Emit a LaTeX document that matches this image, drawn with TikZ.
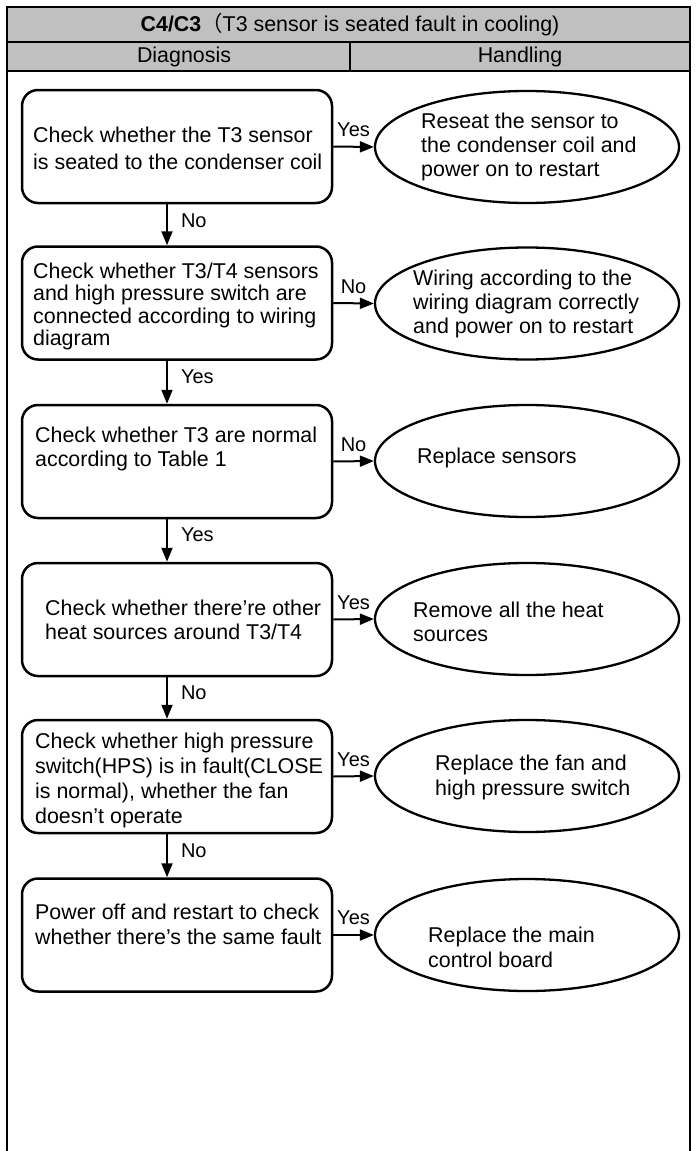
\documentclass[tikz,border=0pt]{standalone}
\usepackage{fontspec}
\setmainfont{Liberation Sans}
\newfontfamily\cjk{Noto Sans CJK SC}
\usepackage{tikz}
\usetikzlibrary{arrows.meta,shapes.geometric,shapes.misc}
\definecolor{headgray}{RGB}{192,192,192}
\tikzset{
  chkbox/.style={draw, line width=2.5pt, rounded corners=16pt, minimum width=310pt, minimum height=113pt, inner sep=0pt},
  fixbox/.style={draw, ellipse, line width=2.3pt, minimum width=304pt, minimum height=112pt, inner sep=0pt},
  txt/.style={align=left, anchor=west, inner sep=0pt, font=\fontsize{21.4}{24}\selectfont},
  hdr/.style={inner sep=0pt, font=\fontsize{21.4}{24}\selectfont},
  yn/.style={inner sep=0pt, font=\fontsize{20}{22}\selectfont},
  arr/.style={line width=2pt, -{Triangle[length=14pt,width=11pt]}}
}

\begin{document}
\begin{tikzpicture}[x=1pt,y=-1pt]
\useasboundingbox (0,0) rectangle (696,1151);
% table head
\filldraw[fill=headgray, line width=2pt] (7,7) rectangle (690,71);
\draw[line width=2pt] (7,42) -- (690,42) (350,42) -- (350,71);
\draw[line width=2pt] (7,71) -- (7,1151) (690,71) -- (690,1151);
\node[hdr] (title) at (350,25) {\textbf{C4/C3}{\cjk （}T3 sensor is seated fault in cooling)};
\node[hdr] (diag) at (184,57) {Diagnosis};
\node[hdr] (handl) at (520,57) {Handling};

% diagnosis boxes
\node[chkbox] (chk1) at (177,146.5) {};
\node[chkbox] (chk2) at (177,303) {};
\node[chkbox] (chk3) at (177,461.5) {};
\node[chkbox] (chk4) at (177,619.5) {};
\node[chkbox] (chk5) at (177,776.5) {};
\node[chkbox] (chk6) at (177,935) {};
\node[txt, font=\fontsize{21.4}{26.5}\selectfont] (chk1txt) at (33,148.5) {Check whether the T3 sensor\\is seated to the condenser coil};
\node[txt, font=\fontsize{21.4}{22.5}\selectfont] (chk2txt) at (33,306.5) {Check whether T3/T4 sensors\\and high pressure switch are\\connected according to wiring\\diagram};
\node[txt] (chk3txt) at (35,448.5) {Check whether T3 are normal\\according to Table 1};
\node[txt] (chk4txt) at (45,619.5) {Check whether there’re other\\heat sources around T3/T4};
\node[txt, font=\fontsize{21.4}{25}\selectfont] (chk5txt) at (35,780) {Check whether high pressure\\switch(HPS) is in fault(CLOSE\\is normal), whether the fan\\doesn’t operate};
\node[txt, font=\fontsize{21.4}{25}\selectfont] (chk6txt) at (35,924.5) {Power off and restart to check\\whether there’s the same fault};

% handling ellipses
\node[fixbox] (fix1) at (527,147) {};
\node[fixbox] (fix2) at (527,303.5) {};
\node[fixbox] (fix3) at (527,461) {};
\node[fixbox] (fix4) at (527,619) {};
\node[fixbox] (fix5) at (527,776) {};
\node[fixbox] (fix6) at (527,935) {};
\node[txt] (fix1txt) at (421,146.5) {Reseat the sensor to\\the condenser coil and\\power on to restart};
\node[txt] (fix2txt) at (413,303.5) {Wiring according to the\\wiring diagram correctly\\and power on to restart};
\node[txt] (fix3txt) at (417,458) {Replace sensors};
\node[txt] (fix4txt) at (413,621.5) {Remove all the heat\\sources};
\node[txt, font=\fontsize{21.4}{25}\selectfont] (fix5txt) at (435,777.5) {Replace the fan and\\high pressure switch};
\node[txt, font=\fontsize{21.4}{25}\selectfont] (fix6txt) at (428,947.5) {Replace the main\\control board};

% arrows
\coordinate (vx) at (167,0);
\draw[arr] (chk1.south -| vx) -- node[yn, right=13pt, yshift=4pt] (no1) {No} (chk2.north -| vx);
\draw[arr] (chk2.south -| vx) -- node[yn, right=13pt, yshift=6pt] (yes2) {Yes} (chk3.north -| vx);
\draw[arr] (chk3.south -| vx) -- node[yn, right=13pt, yshift=6pt] (yes3) {Yes} (chk4.north -| vx);
\draw[arr] (chk4.south -| vx) -- node[yn, right=13pt, yshift=5pt] (no4) {No} (chk5.north -| vx);
\draw[arr] (chk5.south -| vx) -- node[yn, right=13pt, yshift=5pt] (no5) {No} (chk6.north -| vx);
\draw[arr] (chk1.east) -- node[yn, above=9pt] (yes1h) {Yes} (fix1.west);
\draw[arr] (chk2.east) -- node[yn, above=9pt] (no2h) {No} (fix2.west);
\draw[arr] (chk3.east) -- node[yn, above=9pt] (no3h) {No} (fix3.west);
\draw[arr] (chk4.east) -- node[yn, above=9pt] (yes4h) {Yes} (fix4.west);
\draw[arr] (chk5.east) -- node[yn, above=9pt] (yes5h) {Yes} (fix5.west);
\draw[arr] (chk6.east) -- node[yn, above=9pt] (yes6h) {Yes} (fix6.west);
\end{tikzpicture}
\end{document}
